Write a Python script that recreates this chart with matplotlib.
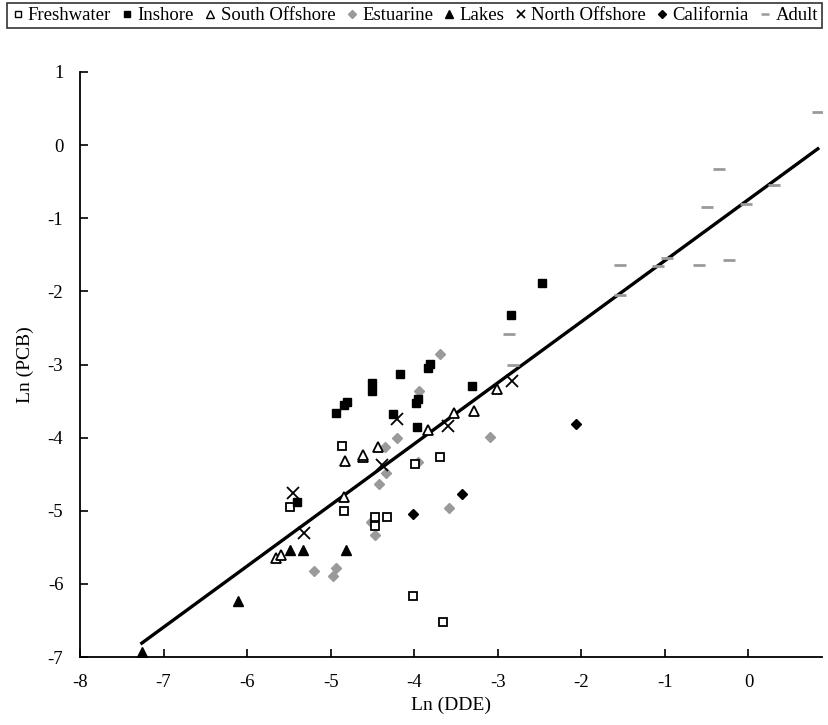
import matplotlib
matplotlib.use("Agg")
import matplotlib.pyplot as plt
from matplotlib.lines import Line2D

plt.rcParams['font.family'] = ['Liberation Serif', 'DejaVu Serif']
plt.rcParams['axes.unicode_minus'] = False

freshwater_x = [-5.49, -4.87, -4.84, -4.47, -4.47, -4.32, -3.99, -3.69, -4.01, -3.65]
freshwater_y = [-4.95, -4.12, -5.00, -5.08, -5.21, -5.08, -4.36, -4.26, -6.17, -6.52]

inshore_x = [-5.40, -4.94, -4.84, -4.81, -4.51, -4.51, -4.25, -4.17, -3.97, -3.98, -3.95, -3.83, -3.81, -3.31, -2.84, -2.47]
inshore_y = [-4.88, -3.66, -3.56, -3.51, -3.25, -3.36, -3.68, -3.13, -3.85, -3.52, -3.47, -3.05, -2.99, -3.30, -2.32, -1.89]

south_x = [-5.65, -5.59, -4.84, -4.83, -4.61, -4.61, -4.43, -3.84, -3.52, -3.29, -3.01]
south_y = [-5.65, -5.60, -4.81, -4.32, -4.27, -4.24, -4.13, -3.89, -3.66, -3.64, -3.33]

estuarine_x = [-5.20, -4.94, -4.97, -4.52, -4.47, -4.42, -4.34, -4.35, -4.21, -3.95, -3.94, -3.69, -3.58, -3.09]
estuarine_y = [-5.82, -5.78, -5.89, -5.16, -5.33, -4.64, -4.48, -4.13, -4.01, -4.33, -3.36, -2.85, -4.96, -3.99]

lakes_x = [-7.26, -6.11, -5.49, -5.33, -4.82]
lakes_y = [-6.93, -6.24, -5.54, -5.54, -5.54]

north_x = [-5.45, -5.32, -4.38, -4.21, -3.59, -2.83]
north_y = [-4.76, -5.30, -4.37, -3.75, -3.84, -3.23]

california_x = [-4.01, -3.43, -2.06]
california_y = [-5.04, -4.77, -3.82]

adult_x = [-2.86, -2.82, -1.54, -1.54, -1.08, -0.97, -0.59, -0.23, -0.50, -0.03, -0.35, 0.30, 0.83]
adult_y = [-2.58, -3.01, -2.05, -1.64, -1.65, -1.54, -1.64, -1.57, -0.84, -0.80, -0.33, -0.55, 0.45]

fit_x = [-7.26, 0.83]
fit_y = [-6.81, -0.05]

xticks = [-8, -7, -6, -5, -4, -3, -2, -1, 0]
yticks = [1, 0, -1, -2, -3, -4, -5, -6, -7]

GREY = '#9a9a9a'

fig = plt.figure(figsize=(8.29, 7.25), dpi=100)
ax = fig.add_axes([80/829, 1 - 657/725, (822 - 80)/829, (657 - 72)/725])

ax.plot(fit_x, fit_y, color='black', lw=2.4, zorder=1)

ax.plot(freshwater_x, freshwater_y, ls='none', marker='s', ms=6, mfc='white', mec='black', mew=1.3, label='Freshwater', zorder=3)
ax.plot(inshore_x, inshore_y, ls='none', marker='s', ms=6.3, mfc='black', mec='black', label='Inshore', zorder=3)
ax.plot(south_x, south_y, ls='none', marker='^', ms=7, mfc='white', mec='black', mew=1.3, label='South Offshore', zorder=3)
ax.plot(estuarine_x, estuarine_y, ls='none', marker='D', ms=5.5, mfc=GREY, mec=GREY, label='Estuarine', zorder=2)
ax.plot(lakes_x, lakes_y, ls='none', marker='^', ms=7.5, mfc='black', mec='black', label='Lakes', zorder=3)
ax.plot(north_x, north_y, ls='none', marker='x', ms=8, mec='black', mew=1.3, label='North Offshore', zorder=3)
ax.plot(california_x, california_y, ls='none', marker='D', ms=5.5, mfc='black', mec='black', label='California', zorder=3)
ax.plot(adult_x, adult_y, ls='none', marker='_', ms=9, mec=GREY, mew=2, label='Adult', zorder=2)

ax.set_xlim(-8, 0.88)
ax.set_ylim(-7, 1)
ax.set_xticks(xticks)
ax.set_yticks(yticks)
for s in ['top', 'right']:
    ax.spines[s].set_visible(False)
for s in ['left', 'bottom']:
    ax.spines[s].set_linewidth(1.3)
ax.tick_params(direction='in', length=6, width=1.2, labelsize=13.5, pad=12)
ax.set_xlabel('Ln (DDE)', fontsize=14, labelpad=4)
ax.set_ylabel('Ln (PCB)', fontsize=14, labelpad=10)

handles = [
    Line2D([], [], ls='none', marker='s', ms=4.5, mfc='white', mec='black', mew=1.0),
    Line2D([], [], ls='none', marker='s', ms=5, mfc='black', mec='black'),
    Line2D([], [], ls='none', marker='^', ms=5.5, mfc='white', mec='black', mew=1.0),
    Line2D([], [], ls='none', marker='D', ms=4, mfc=GREY, mec=GREY),
    Line2D([], [], ls='none', marker='^', ms=6, mfc='black', mec='black'),
    Line2D([], [], ls='none', marker='x', ms=6, mec='black', mew=1.2),
    Line2D([], [], ls='none', marker='D', ms=4.5, mfc='black', mec='black'),
    Line2D([], [], ls='none', marker='_', ms=6, mec=GREY, mew=1.8),
]
labels = ['Freshwater', 'Inshore', 'South Offshore', 'Estuarine', 'Lakes', 'North Offshore', 'California', 'Adult']
leg = fig.legend(handles, labels, loc='upper center', bbox_to_anchor=(0.5, 0.998), ncol=8,
                 fontsize=13.5, frameon=True, fancybox=False, edgecolor='black',
                 handlelength=0.7, handletextpad=0.2, columnspacing=0.52,
                 borderpad=0.2, borderaxespad=0.1)
leg.get_frame().set_linewidth(1.2)

fig.savefig('out.png', dpi=100)
